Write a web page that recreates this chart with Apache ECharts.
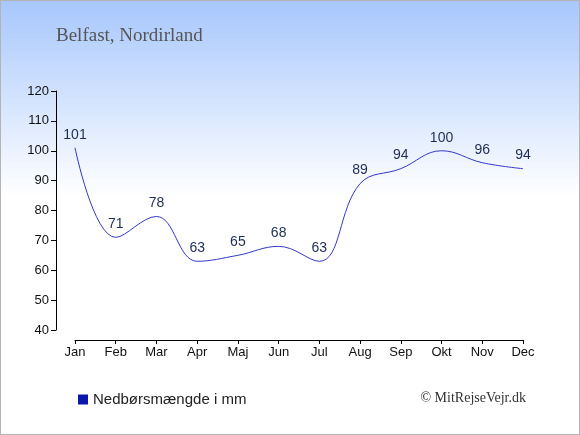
<!DOCTYPE html>
<html lang="da">
<head>
    <meta charset="UTF-8">
    <title>Belfast nedbør</title>
    <style type="text/css">
        html, body {
            margin: 0;
            padding: 0;
            background: #fff;
        }
        #box {
            width: 580px;
            height: 435px;
            box-sizing: border-box;
            border: 1px solid #b4b4b4;
        }
    </style>
</head>
<body>
<div id="box"></div>
<script type="text/javascript" src="https://cdn.jsdelivr.net/npm/echarts@6/dist/echarts.min.js"></script>
<script type="text/javascript">
    // månedsdata (mm nedbør)
    const months = ['Jan', 'Feb', 'Mar', 'Apr', 'Maj', 'Jun', 'Jul', 'Aug', 'Sep', 'Okt', 'Nov', 'Dec'];
    const rain = [101, 71, 78, 63, 65, 68, 63, 89, 94, 100, 96, 94];
    const seriesName = 'Nedbørsmængde i mm';
    const yMin = 40, yMax = 120, yStep = 10;

    let myChart = echarts.init(document.getElementById('box'), null, {renderer: 'canvas'});
    let option = {
        animation: false,
        backgroundColor: {
            type: 'linear', x: 0, y: 0, x2: 0, y2: 1,
            colorStops: [
                {offset: 0, color: '#a7c7fd'},
                {offset: 0.45, color: '#ffffff'},
                {offset: 1, color: '#ffffff'}
            ]
        },
        title: [
            {
                text: 'Belfast, Nordirland',
                left: 50, top: 21,
                textStyle: {fontFamily: 'Liberation Serif', fontSize: 19, fontWeight: 'normal', color: '#555555'}
            },
            {
                text: '© MitRejseVejr.dk',
                right: 48, top: 385,
                textStyle: {fontFamily: 'Liberation Serif', fontSize: 14, fontWeight: 'normal', color: '#333333'}
            }
        ],
        legend: {
            left: 72, top: 386,
            itemWidth: 10, itemHeight: 10, itemGap: 6,
            icon: 'rect',
            data: [{name: seriesName, itemStyle: {color: '#0a17a8'}}],
            textStyle: {fontFamily: 'Liberation Sans', fontSize: 15, color: '#222222'}
        },
        grid: {left: 74, right: 56, top: 90, bottom: 104},
        xAxis: {
            type: 'category',
            data: months,
            boundaryGap: false,
            offset: 10,
            axisLine: {lineStyle: {color: '#000', width: 1}},
            axisTick: {length: 4, lineStyle: {color: '#000'}},
            axisLabel: {margin: 6, color: '#111', fontFamily: 'Liberation Sans', fontSize: 13}
        },
        yAxis: {
            type: 'value',
            min: yMin, max: yMax, interval: yStep,
            offset: 19,
            splitLine: {show: false},
            axisLine: {show: true, lineStyle: {color: '#000', width: 1}},
            axisTick: {show: true, length: 5, lineStyle: {color: '#000'}},
            axisLabel: {margin: 7, color: '#111', fontFamily: 'Liberation Sans', fontSize: 13}
        },
        series: [
            {
                name: seriesName,
                type: 'line',
                data: rain,
                smooth: 0.4,
                showSymbol: true,
                symbol: 'circle',
                symbolSize: 0.1,
                lineStyle: {color: '#3338c8', width: 1},
                itemStyle: {color: '#0a17a8'},
                label: {
                    show: true,
                    position: 'top',
                    distance: 6,
                    color: '#1d2d55',
                    fontFamily: 'Liberation Sans',
                    fontSize: 14
                }
            }
        ]
    };
    myChart.setOption(option);
</script>
</body>
</html>
